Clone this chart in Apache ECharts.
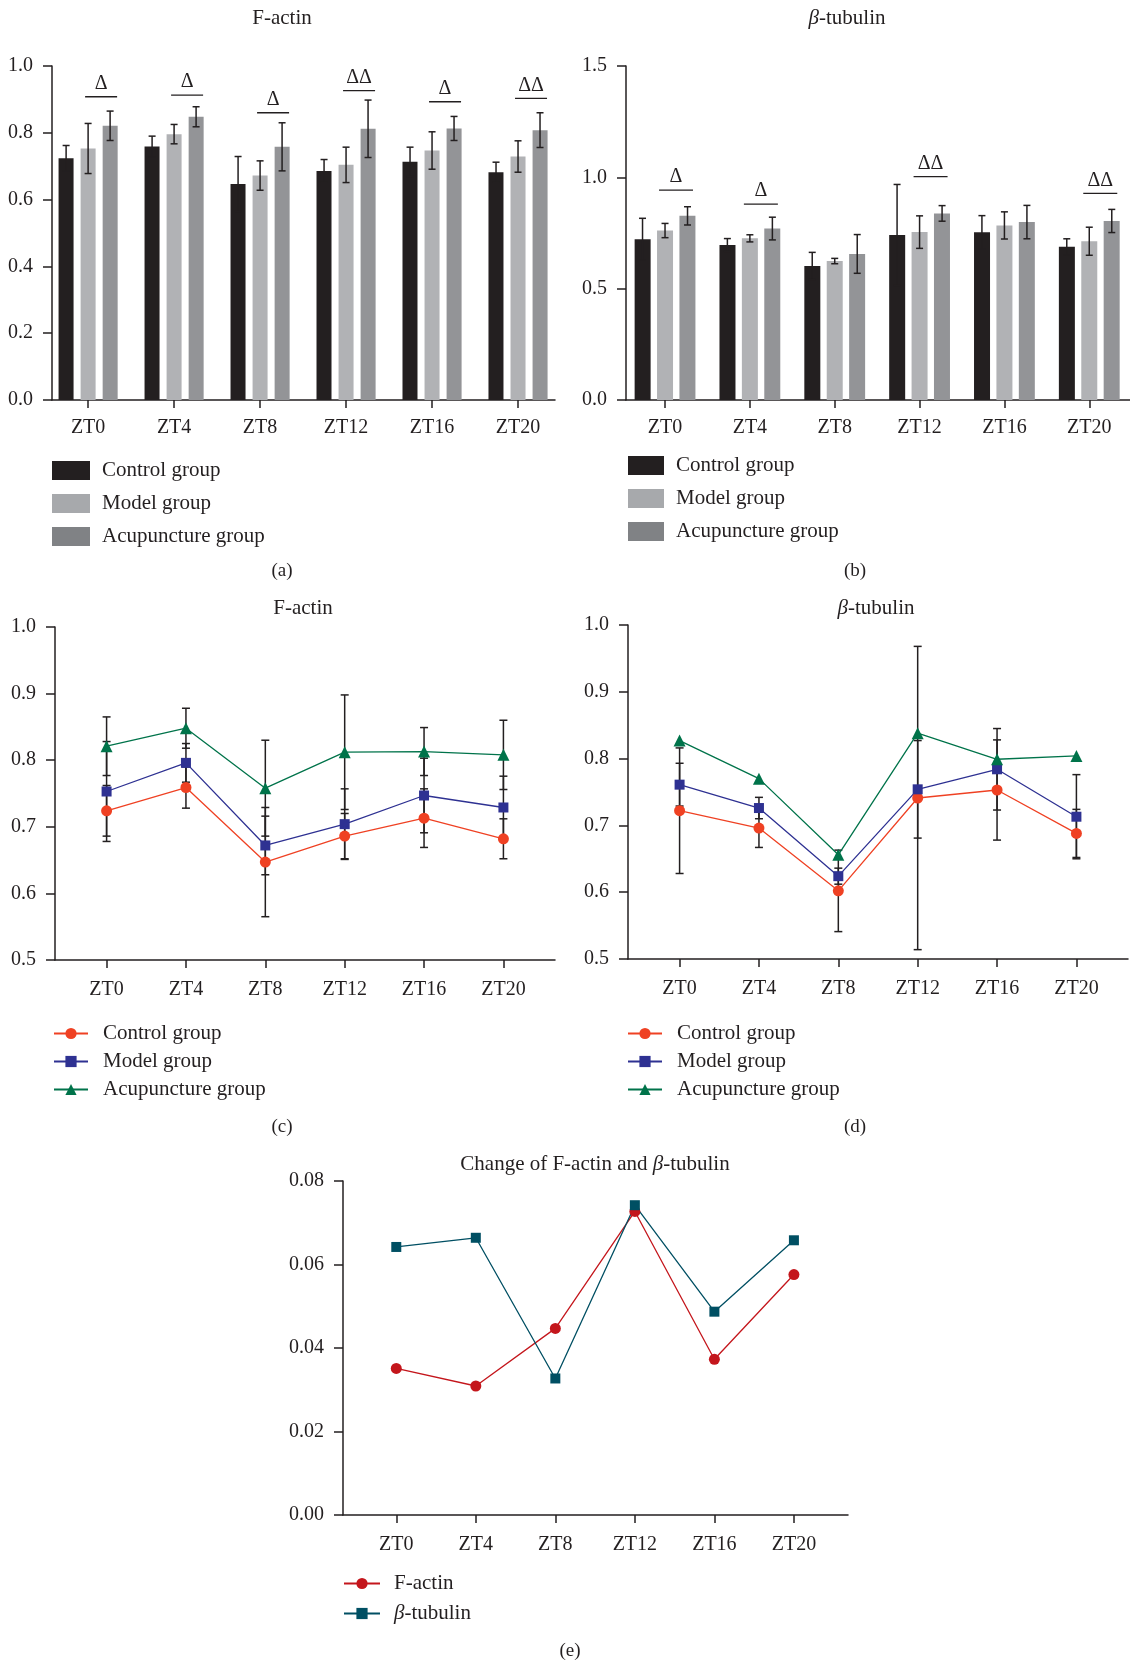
<!DOCTYPE html>
<html><head><meta charset="utf-8">
<script src="https://cdn.jsdelivr.net/npm/echarts@6/dist/echarts.min.js"></script>
<style>html,body{margin:0;padding:0;background:#fff}#c{width:1130px;height:1664px}</style>
</head><body><div id="c"></div><script>
const categories = ['ZT0','ZT4','ZT8','ZT12','ZT16','ZT20'];
const groups = ['Control group','Model group','Acupuncture group'];
// F-actin
const factinControl = [0.724,0.759,0.647,0.686,0.713,0.682];
const factinModel   = [0.753,0.796,0.672,0.704,0.747,0.729];
const factinAcu     = [0.821,0.848,0.758,0.812,0.813,0.808];
const factinControlSD = [0.038,0.031,0.082,0.034,0.044,0.030];
const factinModelSD   = [0.075,0.029,0.044,0.053,0.056,0.047];
const factinAcuSD     = [0.044,0.030,0.072,0.086,0.036,0.052];
// beta-tubulin
const tubulinControl = [0.722,0.696,0.602,0.741,0.753,0.688];
const tubulinModel   = [0.761,0.726,0.624,0.754,0.784,0.713];
const tubulinAcu     = [0.827,0.770,0.656,0.838,0.799,0.804];
const tubulinControlSD = [0.094,0.029,0.061,0.227,0.075,0.036];
const tubulinModelSD   = [0.032,0.016,0.012,0.073,0.061,0.063];
const tubulinAcuSD     = [0.041,0.051,0.087,0.035,0.075,0.052];
// change
const changeFactin  = [0.0351,0.0309,0.0447,0.0727,0.0373,0.0576];
const changeTubulin = [0.0642,0.0664,0.0327,0.0742,0.0487,0.0658];
// significance marks
const sigFactinCats = [0,1,2,3,4,5];
const sigFactinY    = [0.908,0.913,0.860,0.926,0.893,0.903];
const sigFactinText = ['Δ','Δ','Δ','ΔΔ','Δ','ΔΔ'];
const sigTubulinCats = [0,1,3,5];
const sigTubulinY    = [0.943,0.880,1.003,0.928];
const sigTubulinText = ['Δ','Δ','ΔΔ','ΔΔ'];

const FONT = 'Liberation Serif';
const INK = '#231f20';
const barColors = ['#231f20','#b1b2b5','#939497'];
const legendBarColors = ['#231f20','#a7a9ac','#808285'];
const lineColors = ['#ef4123','#2e3192','#00734a'];
const lineSymbols = ['circle','rect','triangle'];
const lineSymbolSizes = [11,10,12];
const lineNames = groups.map(g => g + ' ');
const TICKS = [0,1,2,3,4,5];

const chart = echarts.init(document.getElementById('c'), null, {renderer:'canvas'});

const labelStyle = {color:INK, fontFamily:FONT, fontSize:20};

function valX(grid, min, max, margin){
  return {type:'value', gridIndex:grid, min, max,
    axisLine:{show:true, onZero:false, lineStyle:{color:INK, width:1.5}},
    axisTick:{show:true, length:8, lineStyle:{color:INK,width:1.5}, customValues:TICKS},
    axisLabel:Object.assign({margin:margin, customValues:TICKS, formatter:v => categories[Math.round(v)]}, labelStyle),
    splitLine:{show:false}};
}
function valY(grid, min, max, interval, dec){
  return {type:'value', gridIndex:grid, min, max, interval,
    axisLine:{show:true, onZero:false, lineStyle:{color:INK, width:1.5}},
    axisTick:{show:true, length:9, lineStyle:{color:INK,width:1.5}},
    axisLabel:Object.assign({margin:19, formatter:v => v.toFixed(dec)}, labelStyle),
    splitLine:{show:false}};
}

function errRender(offsetPx, capHalf){
  return function(params, api){
    const x = api.value(0), lo = api.value(1), hi = api.value(2);
    const pLo = api.coord([x, lo]), pHi = api.coord([x, hi]);
    const X = pLo[0] + offsetPx;
    const style = {stroke:INK, lineWidth:1.5};
    return {type:'group', children:[
      {type:'line', shape:{x1:X,y1:pLo[1],x2:X,y2:pHi[1]}, style},
      {type:'line', shape:{x1:X-capHalf,y1:pHi[1],x2:X+capHalf,y2:pHi[1]}, style},
      {type:'line', shape:{x1:X-capHalf,y1:pLo[1],x2:X+capHalf,y2:pLo[1]}, style}
    ]};
  };
}
function errSeries(grid, means, sds, offsetPx, capHalf, z){
  return {type:'custom', xAxisIndex:grid, yAxisIndex:grid, z:z, silent:true,
    renderItem: errRender(offsetPx, capHalf),
    encode:{x:0, y:[1,2]},
    data: means.map((m,i) => [i, m - sds[i], m + sds[i]])};
}
function sigSeries(grid, cats, ys, texts, a, b){
  return {type:'custom', xAxisIndex:grid, yAxisIndex:grid, z:5, silent:true,
    encode:{x:0, y:1},
    data: cats.map((c,k) => [c, ys[k]]),
    renderItem: function(params, api){
      const p = api.coord([api.value(0), api.value(1)]);
      const x1 = p[0] + a, x2 = p[0] + b;
      return {type:'group', children:[
        {type:'line', shape:{x1:x1,y1:p[1],x2:x2,y2:p[1]}, style:{stroke:INK, lineWidth:1.3}},
        {type:'text', x:(x1+x2)/2, y:p[1]-3, style:{text:texts[params.dataIndex], align:'center', verticalAlign:'bottom', fill:INK, font:'20px "' + FONT + '"'}}
      ]};
    }};
}
function barSeries(grid, name, data, color, width, gap){
  return {type:'bar', name, xAxisIndex:grid, yAxisIndex:grid, data:data.map((v,i)=>[i,v]),
    barWidth:width, barGap:gap, itemStyle:{color}, z:2};
}
function lineSeries(grid, name, data, color, symbol, size){
  return {type:'line', name, xAxisIndex:grid, yAxisIndex:grid,
    data: data.map((v,i) => [i, v]), symbol, symbolSize:size, showSymbol:true,
    lineStyle:{color, width:1.3}, itemStyle:{color}, z:4};
}

const series = [];
// (a)
const fa = [factinControl, factinModel, factinAcu];
const faSD = [factinControlSD, factinModelSD, factinAcuSD];
[0,1,2].forEach(k => series.push(barSeries(0, groups[k], fa[k], barColors[k], 15, '47%')));
[0,1,2].forEach(k => series.push(errSeries(0, fa[k], faSD[k], (k-1)*22, 3.5, 3)));
series.push(sigSeries(0, sigFactinCats, sigFactinY, sigFactinText, -3, 29));
// (b)
const tb = [tubulinControl, tubulinModel, tubulinAcu];
const tbSD = [tubulinControlSD, tubulinModelSD, tubulinAcuSD];
[0,1,2].forEach(k => series.push(barSeries(1, groups[k], tb[k], barColors[k], 16, '40%')));
[0,1,2].forEach(k => series.push(errSeries(1, tb[k], tbSD[k], (k-1)*22.5, 3.5, 3)));
series.push(sigSeries(1, sigTubulinCats, sigTubulinY, sigTubulinText, -6, 28));
// (c)
[0,1,2].forEach(k => series.push(errSeries(2, fa[k], faSD[k], 0, 4, 1)));
[0,1,2].forEach(k => series.push(lineSeries(2, lineNames[k], fa[k], lineColors[k], lineSymbols[k], lineSymbolSizes[k])));
// (d)  (acupuncture error bars are not drawn in the reference)
[0,1].forEach(k => series.push(errSeries(3, tb[k], tbSD[k], 0, 4, 1)));
[0,1,2].forEach(k => series.push(lineSeries(3, lineNames[k], tb[k], lineColors[k], lineSymbols[k], lineSymbolSizes[k])));
// (e)
series.push(lineSeries(4, 'F-actin', changeFactin, '#c4161c', 'circle', 11));
series.push(lineSeries(4, 'β-tubulin', changeTubulin, '#004f63', 'rect', 10));

function legendText(pad){
  return {color:INK, fontFamily:FONT, fontSize:21, padding:[0,0,0,pad],
    rich:{i:{fontStyle:'italic', fontFamily:FONT, fontSize:21, color:INK}}};
}
const legendFmt = n => n.trim().replace(/^β/, '{i|β}');
function barLegend(left, top, w){
  return {orient:'vertical', left, top, padding:0, itemWidth:w, itemHeight:19, itemGap:12, selectedMode:false,
    icon:'rect', formatter:legendFmt, textStyle:legendText(7),
    data: groups.map((g,k) => ({name:g, itemStyle:{color:legendBarColors[k]}}))};
}
function lineLegend(left, top, names, w, gap, pad){
  return {orient:'vertical', left, top, padding:0, itemWidth:w, itemHeight:14, itemGap:gap, selectedMode:false,
    formatter:legendFmt, textStyle:legendText(pad), data:names};
}

function txt(x, y, t, size){
  return {type:'text', x, y, style:{text:t, align:'center', verticalAlign:'middle', fill:INK,
    font: size + 'px "' + FONT + '"', rich:{i:{fontStyle:'italic', fontSize:size, fontFamily:FONT}}}};
}

chart.setOption({
  animation:false,
  backgroundColor:'#fff',
  grid:[
    {left:52, top:66, width:503, height:334},
    {left:626, top:66, width:504, height:334},
    {left:55, top:627, width:500, height:333},
    {left:628, top:625, width:500, height:334},
    {left:343, top:1181, width:505, height:334}
  ],
  xAxis:[valX(0,-0.42,5.43,18), valX(1,-0.46,5.48,18), valX(2,-0.65,5.65,20), valX(3,-0.65,5.65,20), valX(4,-0.67,5.68,20)],
  yAxis:[valY(0,0,1,0.2,1), valY(1,0,1.5,0.5,1), valY(2,0.5,1.0,0.1,1), valY(3,0.5,1.0,0.1,1), valY(4,0,0.08,0.02,2)],
  legend:[
    barLegend(52, 460, 38),
    barLegend(628, 455, 36),
    lineLegend(53, 1023, lineNames, 34, 7, 10),
    lineLegend(627, 1023, lineNames, 34, 7, 10),
    lineLegend(343, 1573, ['F-actin','β-tubulin'], 36, 9, 9)
  ],
  graphic:[
    txt(282, 18, 'F-actin', 21),
    txt(847, 18, '{i|β}-tubulin', 21),
    txt(303, 608, 'F-actin', 21),
    txt(876, 608, '{i|β}-tubulin', 21),
    txt(595, 1164, 'Change of F-actin and {i|β}-tubulin', 21),
    txt(282, 571, '(a)', 19),
    txt(855, 571, '(b)', 19),
    txt(282, 1127, '(c)', 19),
    txt(855, 1127, '(d)', 19),
    txt(570, 1651, '(e)', 19)
  ],
  series
});
</script></body></html>
